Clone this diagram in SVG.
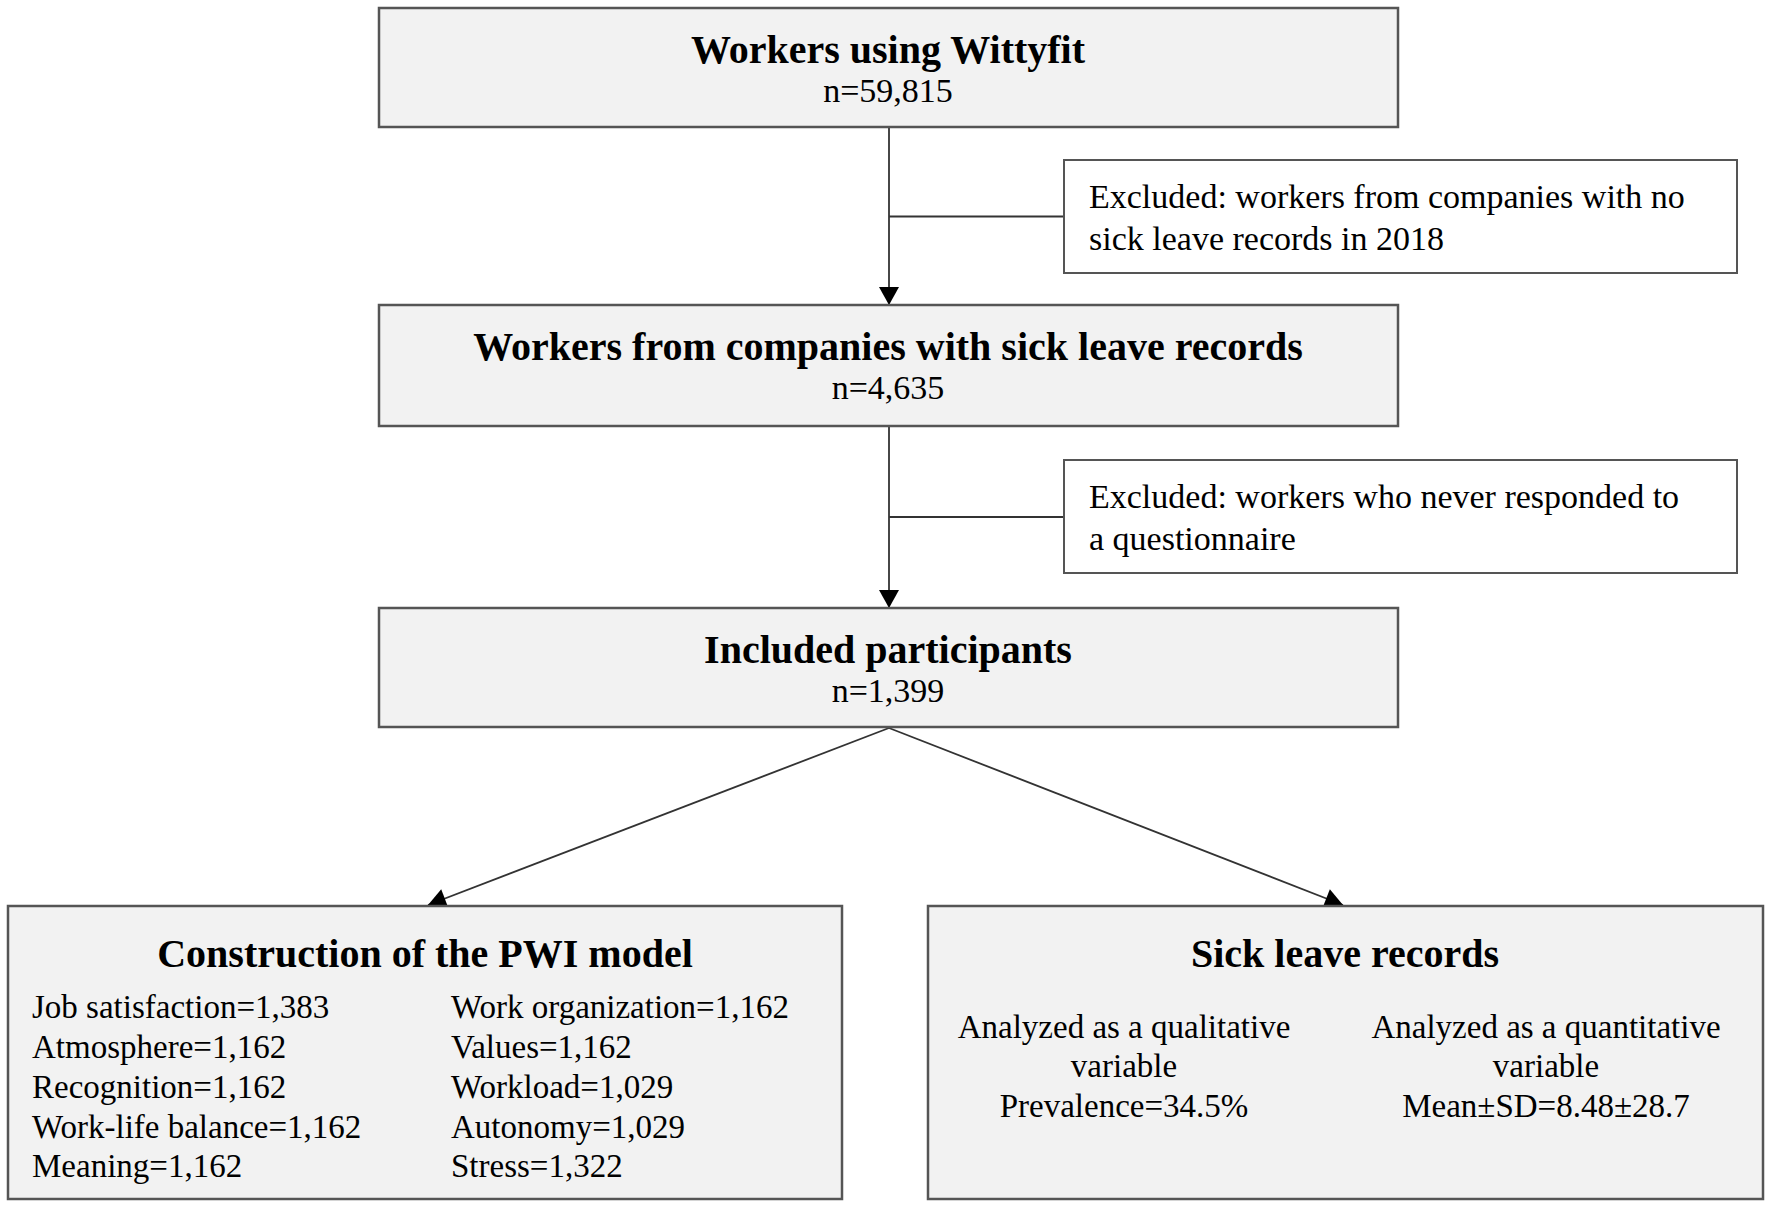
<svg xmlns="http://www.w3.org/2000/svg" width="1772" height="1208" viewBox="0 0 1772 1208">
<style>
.box{fill:#f2f2f2;stroke:#555;stroke-width:2.5}
.exc{fill:#fff;stroke:#555;stroke-width:2}
.ttl{font-family:"Liberation Serif","Times New Roman",serif;font-weight:bold;font-size:40px;fill:#000;text-anchor:middle}
.n{font-family:"Liberation Serif","Times New Roman",serif;font-size:34px;fill:#000;text-anchor:middle}
.t{font-family:"Liberation Serif","Times New Roman",serif;font-size:34px;fill:#000}
.s{font-family:"Liberation Serif","Times New Roman",serif;font-size:33px;fill:#000}
.c{text-anchor:middle}
.ln{stroke:#333;stroke-width:1.8;fill:none}
</style>
<defs>
<marker id="ah" markerUnits="userSpaceOnUse" markerWidth="20" markerHeight="22" viewBox="0 0 18 22" refX="18" refY="11" orient="auto">
<path d="M0,1 L18,11 L0,21 Z" fill="#000"/>
</marker>
</defs>
<rect width="1772" height="1208" fill="#fff"/>
<g id="connectors">
<line class="ln" x1="889" y1="127" x2="889" y2="305" marker-end="url(#ah)"/>
<line class="ln" x1="889" y1="216.5" x2="1064" y2="216.5"/>
<line class="ln" x1="889" y1="426" x2="889" y2="608" marker-end="url(#ah)"/>
<line class="ln" x1="889" y1="517" x2="1064" y2="517"/>
<line class="ln" x1="889" y1="728" x2="428" y2="905" marker-end="url(#ah)"/>
<line class="ln" x1="889" y1="728" x2="1343" y2="905" marker-end="url(#ah)"/>
</g>
<g id="node-wittyfit">
<rect class="box" x="379" y="8" width="1019" height="119"/>
<text class="ttl" x="888" y="63">Workers using Wittyfit</text>
<text class="n" x="888" y="102">n=59,815</text>
</g>
<g id="node-excluded1">
<rect class="exc" x="1064" y="160" width="673" height="113"/>
<text class="t" x="1089" y="208">Excluded: workers from companies with no</text>
<text class="t" x="1089" y="250">sick leave records in 2018</text>
</g>
<g id="node-companies">
<rect class="box" x="379" y="305" width="1019" height="121"/>
<text class="ttl" x="888" y="360">Workers from companies with sick leave records</text>
<text class="n" x="888" y="399">n=4,635</text>
</g>
<g id="node-excluded2">
<rect class="exc" x="1064" y="460" width="673" height="113"/>
<text class="t" x="1089" y="508">Excluded: workers who never responded to</text>
<text class="t" x="1089" y="550">a questionnaire</text>
</g>
<g id="node-included">
<rect class="box" x="379" y="608" width="1019" height="119"/>
<text class="ttl" x="888" y="663">Included participants</text>
<text class="n" x="888" y="702">n=1,399</text>
</g>
<g id="node-pwi">
<rect class="box" x="8" y="906" width="834" height="293"/>
<text class="ttl" x="425" y="967">Construction of the PWI model</text>
<text class="s" x="32" y="1018">Job satisfaction=1,383</text>
<text class="s" x="32" y="1058">Atmosphere=1,162</text>
<text class="s" x="32" y="1098">Recognition=1,162</text>
<text class="s" x="32" y="1138">Work-life balance=1,162</text>
<text class="s" x="32" y="1177">Meaning=1,162</text>
<text class="s" x="451" y="1018">Work organization=1,162</text>
<text class="s" x="451" y="1058">Values=1,162</text>
<text class="s" x="451" y="1098">Workload=1,029</text>
<text class="s" x="451" y="1138">Autonomy=1,029</text>
<text class="s" x="451" y="1177">Stress=1,322</text>
</g>
<g id="node-sickleave">
<rect class="box" x="928" y="906" width="835" height="293"/>
<text class="ttl" x="1345" y="967">Sick leave records</text>
<text class="s c" x="1124" y="1038">Analyzed as a qualitative</text>
<text class="s c" x="1124" y="1077">variable</text>
<text class="s c" x="1124" y="1117">Prevalence=34.5%</text>
<text class="s c" x="1546" y="1038">Analyzed as a quantitative</text>
<text class="s c" x="1546" y="1077">variable</text>
<text class="s c" x="1546" y="1117">Mean±SD=8.48±28.7</text>
</g>
</svg>
